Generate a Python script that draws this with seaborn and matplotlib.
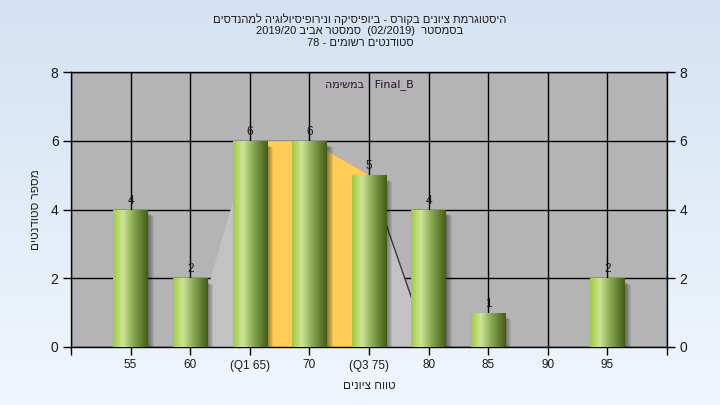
"""Grade histogram (Hebrew course report) redrawn with seaborn. Writes out.png."""

import matplotlib

matplotlib.use('Agg')
import matplotlib.pyplot as plt
import matplotlib.transforms as mtransforms
import numpy as np
import seaborn as sns
from matplotlib.colors import LinearSegmentedColormap
from matplotlib.patches import Rectangle

# data
GRADES = ['55', '60', '(Q1 65)', '70', '(Q3 75)', '80', '85', '90', '95']
COUNTS = [4, 2, 6, 6, 5, 4, 1, 0, 2]
# frequency polygon drawn behind the bars (only spans 60..80)
CURVE = [np.nan, 0, 6, 6, 5, 0, np.nan, np.nan, np.nan]
Q1_IDX, Q3_IDX = 2, 4
YTICKS = [0, 2, 4, 6, 8]

# Hebrew strings in visual (left-to-right drawing) order, matplotlib has no bidi
TITLE = [
    'םיסדנהמל היגולויסיפורינו הקיסיפויב - סרוקב םינויצ תמרגוטסיה',
    '2019/20 ביבא רטסמס  (02/2019)  רטסמסב',
    '78 - םימושר םיטנדוטס',
]
XLABEL = 'םינויצ חווט'
YLABEL = 'םיטנדוטס רפסמ'
NOTE = 'המישמב : Final_B'

PLOT_BG = '#b4b4b4'
AREA = '#c2c2c2'
IQR = '#ffcc55'
INK = '#1a1a1a'
BAR_CMAP = LinearSegmentedColormap.from_list(
    'cyl',
    [(0.0, '#a0cc40'), (0.28, '#cde598'), (0.6, '#86a650'), (1.0, '#445c18')],
)


def main() -> None:
    sns.set_theme(style='white')
    plt.rcParams.update(
        {
            'font.family': ['Liberation Sans', 'DejaVu Sans'],
            'text.color': INK,
            'xtick.color': INK,
            'ytick.color': INK,
        }
    )
    fig = plt.figure(figsize=(7.2, 4.05), dpi=100)

    # soft blue page gradient
    bg = fig.add_axes([0, 0, 1, 1], zorder=-10)
    grad = np.linspace(0, 1, 256).reshape(-1, 1)
    bg.imshow(
        grad,
        aspect='auto',
        extent=[0, 1, 0, 1],
        cmap=LinearSegmentedColormap.from_list('page', ['#d4e2f3', '#f0f6fd']),
    )
    bg.axis('off')

    ax = fig.add_axes([71 / 720, 58 / 405, 596 / 720, 275 / 405])
    ax.set_facecolor(PLOT_BG)
    idx = np.arange(len(GRADES))
    curve = np.array(CURVE, dtype=float)

    ax.fill_between(idx, curve, color=AREA, linewidth=0, zorder=1)
    inside = (idx >= Q1_IDX) & (idx <= Q3_IDX)
    ax.fill_between(idx, curve, where=inside, color=IQR, linewidth=0, zorder=1.5)
    tail = idx >= Q3_IDX
    ax.plot(idx[tail], curve[tail], color='#3a3a3a', linewidth=1, zorder=1.6)

    sns.barplot(
        x=GRADES,
        y=COUNTS,
        order=GRADES,
        color='#9cc24a',
        width=0.58,
        linewidth=0,
        edgecolor='none',
        ax=ax,
        zorder=3,
    )
    cont = ax.containers[0]
    for patch in cont.patches:
        x0, y0 = patch.get_x(), patch.get_y()
        w, h = patch.get_width(), patch.get_height()
        if h <= 0:
            continue
        for k in range(1, 7):
            off = mtransforms.ScaledTranslation(k / 100, -k / 200, fig.dpi_scale_trans)
            ax.add_patch(
                Rectangle(
                    (x0, y0),
                    w,
                    h - 0.1,
                    transform=ax.transData + off,
                    facecolor='black',
                    alpha=0.08,
                    linewidth=0,
                    zorder=2.5,
                )
            )
        im = ax.imshow(
            np.linspace(0, 1, 64).reshape(1, -1),
            extent=[x0, x0 + w, y0, y0 + h],
            aspect='auto',
            cmap=BAR_CMAP,
            zorder=3.2,
        )
        im.set_clip_path(patch)
    ax.bar_label(
        cont,
        labels=[str(c) if c else '' for c in COUNTS],
        padding=2,
        fontsize=8.5,
        color=INK,
        zorder=5,
    )

    ax.set_xlim(-1, len(GRADES))
    ax.set_ylim(0, 8)
    ax.set_xticks(range(-1, len(GRADES) + 1))
    ax.set_xticklabels([''] + GRADES + [''], fontsize=8.5)
    ax.set_yticks(YTICKS)
    ax.set_yticklabels([str(t) for t in YTICKS], fontsize=10)
    ax.grid(True, color='black', linewidth=1)
    ax.set_axisbelow(True)
    ax.tick_params(
        axis='both',
        direction='out',
        length=6,
        width=1,
        color='black',
        left=True,
        bottom=True,
        right=True,
        labelright=True,
        pad=3,
    )
    for sp in ax.spines.values():
        sp.set_color('black')
        sp.set_linewidth(1)
    ax.set_xlabel(XLABEL, fontsize=8.5, labelpad=6)
    ax.set_ylabel(YLABEL, fontsize=8.5, labelpad=6)
    ax.text(0.5, 0.953, NOTE, transform=ax.transAxes, ha='center', va='center',
            fontsize=8, color='#2a1030', zorder=6, family='DejaVu Sans')

    for line, y in zip(TITLE, [0.953, 0.923, 0.893], strict=True):
        fig.text(0.5, y, line, ha='center', va='center', fontsize=8)

    fig.savefig('out.png', dpi=100)
    plt.close(fig)


if __name__ == '__main__':
    main()
